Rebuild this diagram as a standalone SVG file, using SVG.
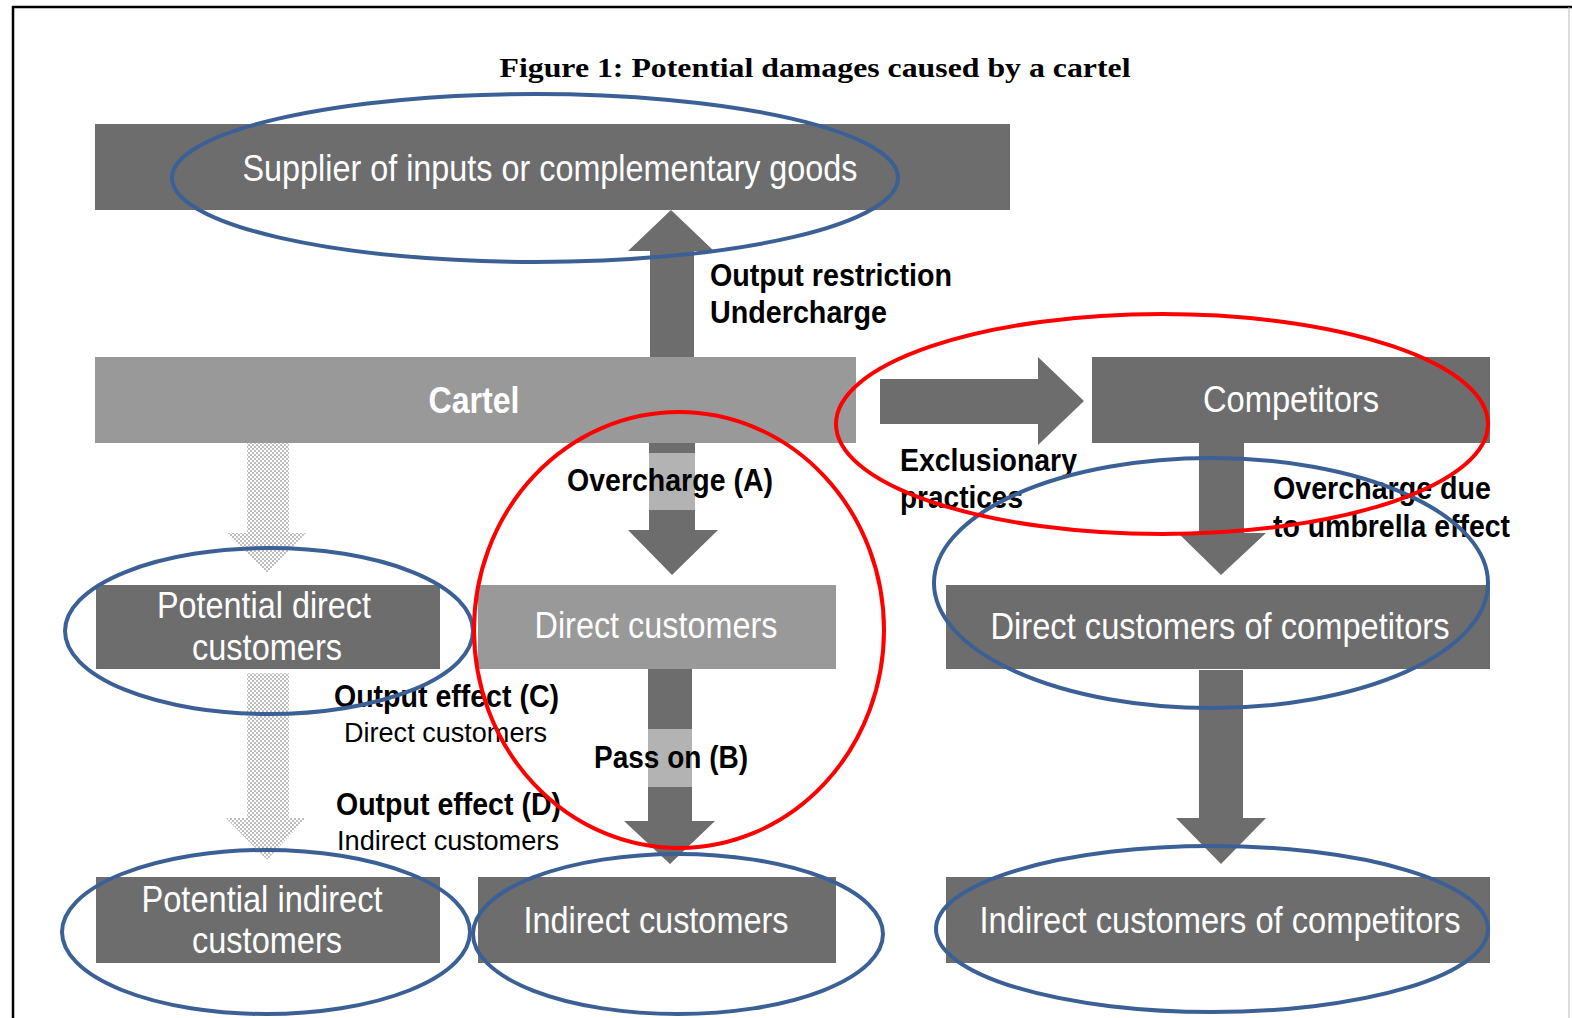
<svg xmlns="http://www.w3.org/2000/svg" width="1572" height="1018" viewBox="0 0 1572 1018">
  <defs>
    <pattern id="dots" width="4" height="4" patternUnits="userSpaceOnUse">
      <rect width="4" height="4" fill="#ffffff"/>
      <circle cx="1" cy="1" r="0.9" fill="#a0a0a0"/>
      <circle cx="3" cy="3" r="0.9" fill="#a0a0a0"/>
    </pattern>
  </defs>
  <style>
    .dark { fill: #6d6d6d; }
    .light { fill: #999999; }
    .arrow { fill: #6d6d6d; }
    .band { fill: #b3b3b3; }
    .dotted { fill: url(#dots); }
    .boxtext { font-family: "Liberation Sans", Arial, sans-serif; font-size: 37px; fill: #ffffff; }
    .label { font-family: "Liberation Sans", Arial, sans-serif; font-size: 32px; font-weight: bold; fill: #000000; }
    .small { font-family: "Liberation Sans", Arial, sans-serif; font-size: 27px; fill: #000000; }
    .blue { fill: none; stroke: #3b6096; stroke-width: 4; }
    .red { fill: none; stroke: #ff0000; stroke-width: 4; }
  </style>

  <rect width="1572" height="1018" fill="#ffffff"/>

  <!-- page frame -->
  <line x1="12" y1="7" x2="1572" y2="7" stroke="#000" stroke-width="2.5"/>
  <line x1="13" y1="6" x2="13" y2="1018" stroke="#000" stroke-width="2.5"/>
  <line x1="1569" y1="7" x2="1569" y2="1018" stroke="#bbbbbb" stroke-width="1"/>

  <text x="815" y="77" text-anchor="middle" font-family="'Liberation Serif', 'Times New Roman', serif" font-size="27" font-weight="bold" textLength="631" lengthAdjust="spacingAndGlyphs">Figure 1: Potential damages caused by a cartel</text>

  <!-- connectors -->
  <g id="connectors">
    <!-- cartel to supplier -->
    <polygon class="arrow" points="650,358 650,251 628,251 671,210 714,251 694,251 694,358"/>
    <!-- cartel to competitors -->
    <polygon class="arrow" points="880,379 1038,379 1038,357 1084,401 1038,445 1038,424 880,424"/>
    <!-- overcharge (A) -->
    <polygon class="arrow" points="649,440 695,440 695,530 718,530 672,575 628,530 649,530"/>
    <rect class="band" x="649" y="453" width="46" height="57"/>
    <!-- pass on (B) -->
    <polygon class="arrow" points="648,669 692,669 692,821 715,821 670,864 624,821 648,821"/>
    <rect class="band" x="648" y="729" width="44" height="58"/>
    <!-- umbrella effect -->
    <polygon class="arrow" points="1199,443 1244,443 1244,533 1266,533 1221,575 1178,533 1199,533"/>
    <!-- competitors' direct to indirect customers -->
    <polygon class="arrow" points="1199,670 1243,670 1243,818 1266,818 1221,864 1176,818 1199,818"/>
    <!-- potential customers (dotted) -->
    <polygon class="dotted" points="247,443 289,443 289,533 306,533 267,573 226,533 247,533"/>
    <polygon class="dotted" points="247,673 289,673 289,818 306,818 267,860 226,818 247,818"/>
  </g>

  <!-- nodes -->
  <g id="supplier">
    <rect class="dark" x="95" y="124" width="915" height="86"/>
    <text class="boxtext" x="550" y="181" text-anchor="middle" textLength="615" lengthAdjust="spacingAndGlyphs">Supplier of inputs or complementary goods</text>
  </g>
  <g id="cartel">
    <rect class="light" x="95" y="357" width="761" height="86"/>
    <text class="boxtext" x="474" y="413" text-anchor="middle" font-weight="bold" textLength="91" lengthAdjust="spacingAndGlyphs">Cartel</text>
  </g>
  <g id="competitors">
    <rect class="dark" x="1092" y="357" width="398" height="86"/>
    <text class="boxtext" x="1291" y="412" text-anchor="middle" textLength="176" lengthAdjust="spacingAndGlyphs">Competitors</text>
  </g>
  <g id="potential-direct">
    <rect class="dark" x="96" y="585" width="344" height="84"/>
    <text class="boxtext" x="264" y="618" text-anchor="middle" textLength="214" lengthAdjust="spacingAndGlyphs">Potential direct</text>
    <text class="boxtext" x="267" y="660" text-anchor="middle" textLength="150" lengthAdjust="spacingAndGlyphs">customers</text>
  </g>
  <g id="direct">
    <rect class="light" x="478" y="585" width="358" height="84"/>
    <text class="boxtext" x="656" y="638" text-anchor="middle" textLength="243" lengthAdjust="spacingAndGlyphs">Direct customers</text>
  </g>
  <g id="direct-competitors">
    <rect class="dark" x="946" y="585" width="544" height="84"/>
    <text class="boxtext" x="1220" y="639" text-anchor="middle" textLength="459" lengthAdjust="spacingAndGlyphs">Direct customers of competitors</text>
  </g>
  <g id="potential-indirect">
    <rect class="dark" x="96" y="877" width="344" height="86"/>
    <text class="boxtext" x="262" y="912" text-anchor="middle" textLength="241" lengthAdjust="spacingAndGlyphs">Potential indirect</text>
    <text class="boxtext" x="267" y="953" text-anchor="middle" textLength="150" lengthAdjust="spacingAndGlyphs">customers</text>
  </g>
  <g id="indirect">
    <rect class="dark" x="478" y="877" width="358" height="86"/>
    <text class="boxtext" x="656" y="933" text-anchor="middle" textLength="265" lengthAdjust="spacingAndGlyphs">Indirect customers</text>
  </g>
  <g id="indirect-competitors">
    <rect class="dark" x="946" y="877" width="544" height="86"/>
    <text class="boxtext" x="1220" y="933" text-anchor="middle" textLength="481" lengthAdjust="spacingAndGlyphs">Indirect customers of competitors</text>
  </g>

  <!-- effect labels -->
  <g id="labels">
    <text class="label" x="710" y="286" textLength="242" lengthAdjust="spacingAndGlyphs">Output restriction</text>
    <text class="label" x="710" y="323" textLength="177" lengthAdjust="spacingAndGlyphs">Undercharge</text>
    <text class="label" x="900" y="471" textLength="177" lengthAdjust="spacingAndGlyphs">Exclusionary</text>
    <text class="label" x="900" y="508" textLength="123" lengthAdjust="spacingAndGlyphs">practices</text>
    <text class="label" x="1273" y="499" textLength="218" lengthAdjust="spacingAndGlyphs">Overcharge due</text>
    <text class="label" x="1273" y="537" textLength="237" lengthAdjust="spacingAndGlyphs">to umbrella effect</text>
    <text class="label" x="567" y="491" textLength="206" lengthAdjust="spacingAndGlyphs">Overcharge (A)</text>
    <text class="label" x="594" y="768" textLength="154" lengthAdjust="spacingAndGlyphs">Pass on (B)</text>
    <text class="label" x="334" y="707" textLength="225" lengthAdjust="spacingAndGlyphs">Output effect (C)</text>
    <text class="small" x="344" y="742" textLength="203" lengthAdjust="spacingAndGlyphs">Direct customers</text>
    <text class="label" x="336" y="815" textLength="225" lengthAdjust="spacingAndGlyphs">Output effect (D)</text>
    <text class="small" x="337" y="850" textLength="222" lengthAdjust="spacingAndGlyphs">Indirect customers</text>
  </g>

  <!-- highlight rings -->
  <g id="highlights">
    <ellipse class="blue" cx="535" cy="178" rx="363" ry="84"/>
    <ellipse class="blue" cx="269" cy="631" rx="204" ry="83"/>
    <ellipse class="blue" cx="1211" cy="583" rx="277" ry="125"/>
    <ellipse class="blue" cx="266" cy="932" rx="204" ry="82"/>
    <ellipse class="blue" cx="678" cy="934" rx="205" ry="80"/>
    <ellipse class="blue" cx="1212" cy="929" rx="276" ry="83"/>
    <ellipse class="red" cx="679" cy="630" rx="205" ry="218"/>
    <ellipse class="red" cx="1162" cy="424" rx="326" ry="110"/>
  </g>
</svg>
